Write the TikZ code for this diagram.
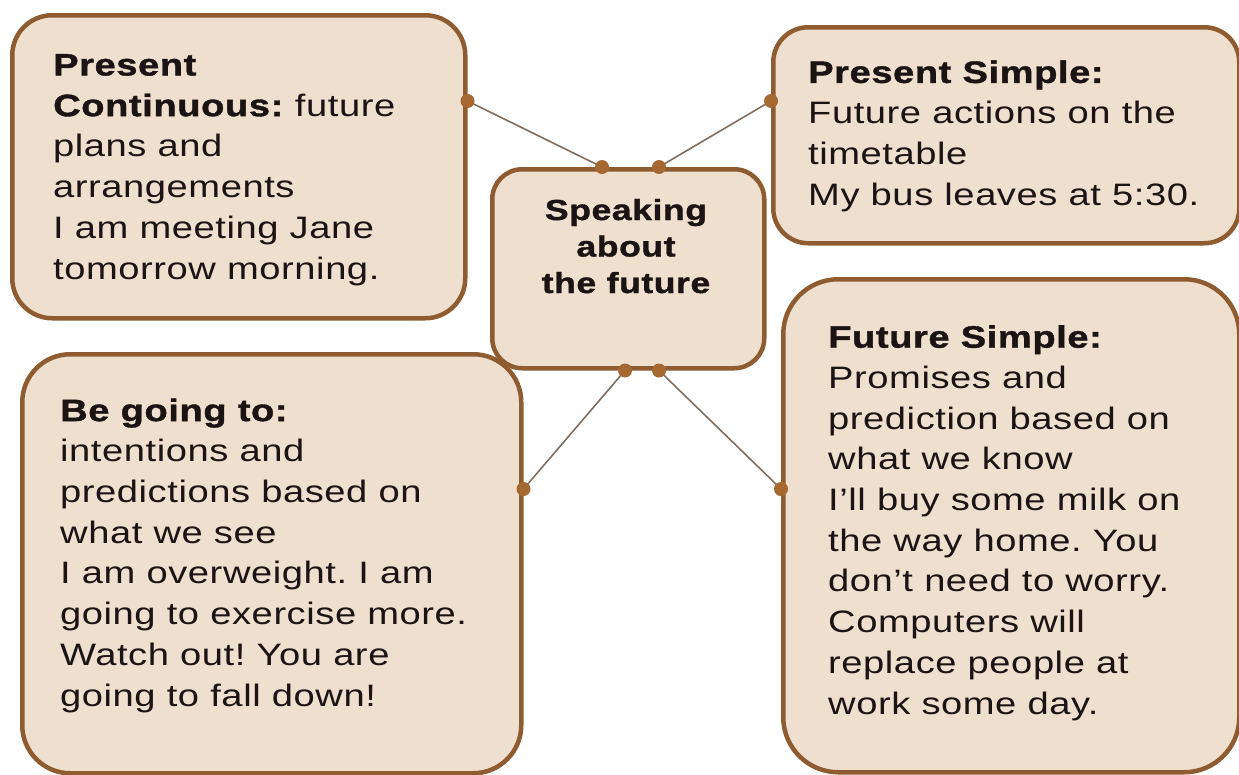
\documentclass[tikz,border=0pt]{standalone}
\usepackage{fontspec}
\setmainfont{Liberation Sans}[FakeStretch=1.23,LetterSpace=1.8,BoldFeatures={FakeBold=1.2}]
\definecolor{boxfill}{RGB}{239,223,206}
\definecolor{boxborder}{RGB}{142,92,48}
\definecolor{linkcol}{RGB}{128,110,96}
\definecolor{dotcol}{RGB}{165,104,48}
\definecolor{txt}{RGB}{28,20,20}
\frenchspacing
\begin{document}
\begin{tikzpicture}[x=1pt,y=-1pt,
  box/.style={draw=boxborder, line width=4.5pt, fill=boxfill, rounded corners=#1, inner sep=0pt, anchor=north west},
  box/.default=40,
  body/.style={anchor=base west, align=left, inner sep=0pt, text=txt, font=\fontsize{31}{40.7}\selectfont},
  title/.style={anchor=base, align=center, inner sep=0pt, text=txt, font=\fontsize{29}{36.5}\selectfont\bfseries},
  link/.style={draw=linkcol, line width=1.6pt},
  dot/.style={fill=dotcol}]
\useasboundingbox[fill=white] (0,0) rectangle (1239,774);
% boxes
\node[box=40, minimum width=453, minimum height=303] (pc) at (10,13) {};
\node[box=35, minimum width=466, minimum height=216] (ps) at (771,25) {};
\node[box=30, minimum width=272, minimum height=199] (ct) at (490,167) {};
\node[box=48, minimum width=499, minimum height=419] (bg) at (20,352) {};
\node[box=55, minimum width=456, minimum height=493] (fs) at (781,277) {};
% texts (anchored at the baseline of their last line)
\node[body] (pct) at (53,279) {\textbf{Present}\\\textbf{Continuous:} future\\plans and\\arrangements\\I am meeting Jane\\tomorrow morning.};
\node[body] (pst) at (808,205) {\textbf{Present Simple:}\\Future actions on the\\timetable\\My bus leaves at 5:30.};
\node[title] (ctt) at (626,293) {Speaking\\about\\the future};
\node[body] (bgt) at (60,706) {\textbf{Be going to:}\\intentions and\\predictions based on\\what we see\\I am overweight. I am\\going to exercise more.\\Watch out! You are\\going to fall down!};
\node[body] (fst) at (828,714) {\textbf{Future Simple:}\\Promises and\\prediction based on\\what we know\\I’ll buy some milk on\\the way home. You\\don’t need to worry.\\Computers will\\replace people at\\work some day.};
% connection points
\coordinate (pcR) at (pc.east |- 0,101);
\coordinate (psL) at (ps.west |- 0,101);
\coordinate (ctTL) at (602,0 |- ct.north);
\coordinate (ctTR) at (659,0 |- ct.north);
\coordinate (ctBL) at (625,0 |- ct.south);
\coordinate (ctBR) at (659,0 |- ct.south);
\coordinate (bgR) at (bg.east |- 0,489);
\coordinate (fsL) at (fs.west |- 0,489);
\path[link] (pcR) -- (ctTL);
\path[link] (psL) -- (ctTR);
\path[link] (ctBL) -- (bgR);
\path[link] (ctBR) -- (fsL);
\foreach \p in {pcR,psL,ctTL,ctTR,ctBL,ctBR,bgR,fsL}
  \fill[dot] (\p) circle (7);
\end{tikzpicture}
\end{document}
